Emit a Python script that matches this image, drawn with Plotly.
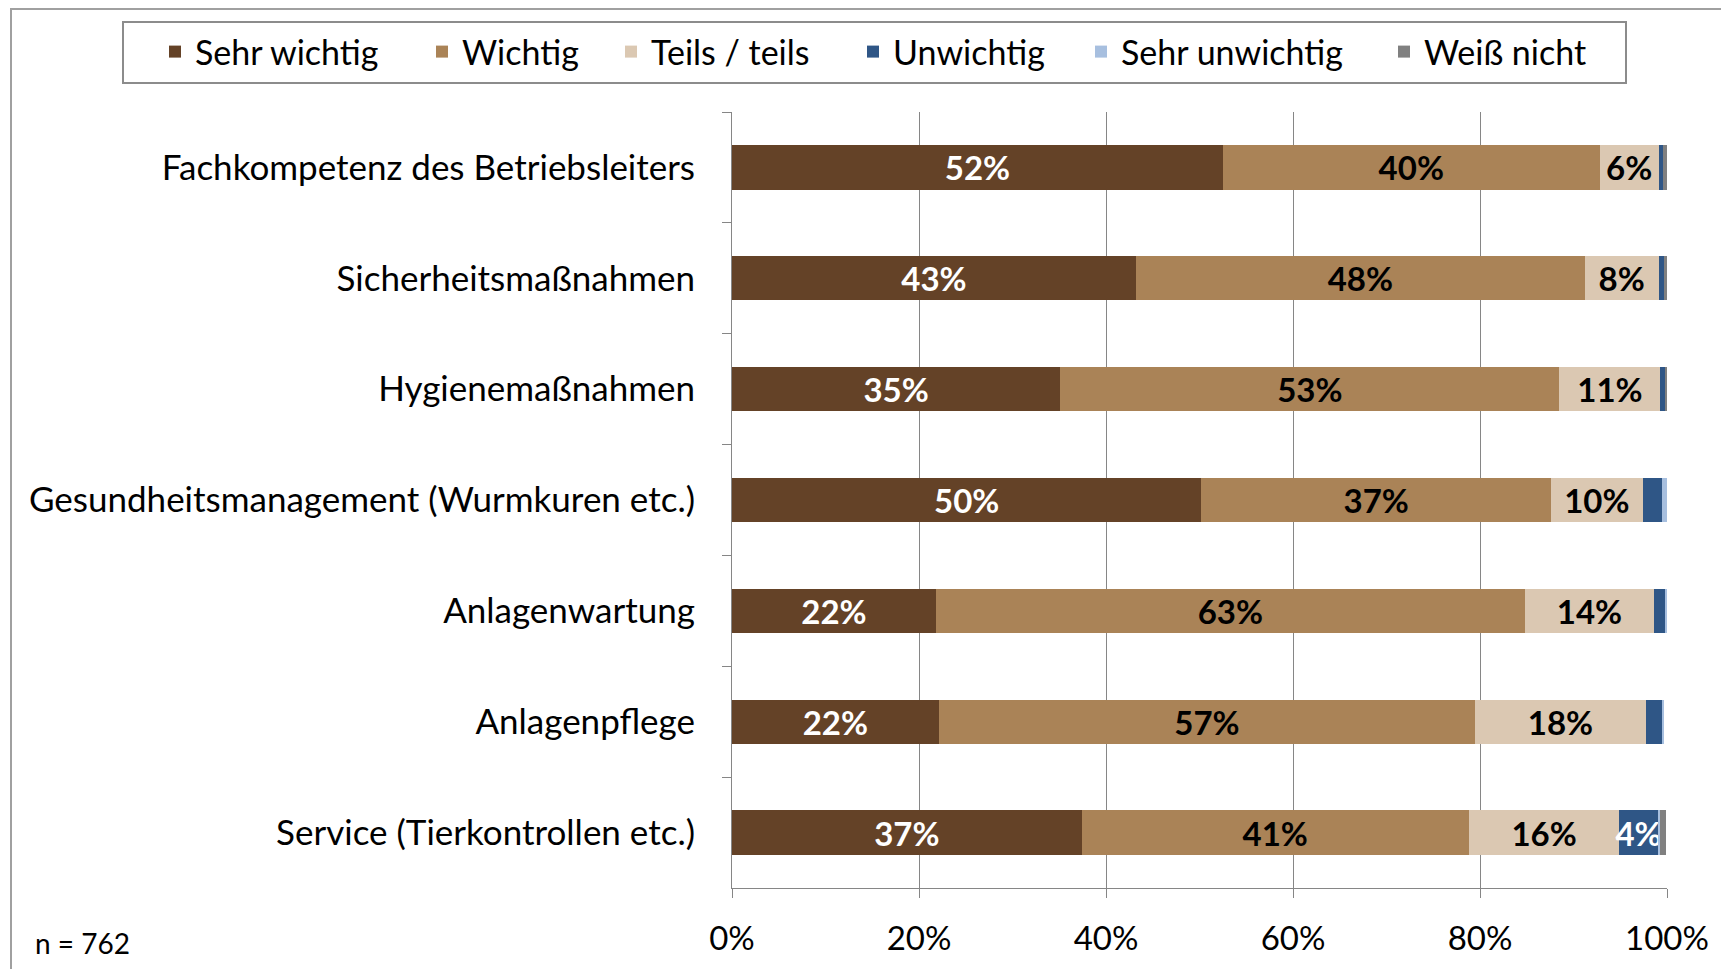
import plotly.graph_objects as go

# Kategorien (von oben nach unten)
categories = [
    "Fachkompetenz des Betriebsleiters",
    "Sicherheitsmaßnahmen",
    "Hygienemaßnahmen",
    "Gesundheitsmanagement (Wurmkuren etc.)",
    "Anlagenwartung",
    "Anlagenpflege",
    "Service (Tierkontrollen etc.)",
]

sehr_wichtig = [52.5, 43.2, 35.1, 50.2, 21.8, 22.1, 37.4]
wichtig = [40.3, 48.0, 53.4, 37.4, 63.0, 57.4, 41.4]
teils_teils = [6.3, 7.9, 10.8, 9.8, 13.8, 18.2, 16.1]
unwichtig = [0.5, 0.6, 0.5, 2.1, 1.2, 1.8, 4.1]
sehr_unwichtig = [0.0, 0.0, 0.0, 0.5, 0.2, 0.2, 0.3]
weiss_nicht = [0.4, 0.3, 0.1, 0.0, 0.0, 0.0, 0.6]

x_ticks = [0, 20, 40, 60, 80, 100]
x_tick_labels = ["0%", "20%", "40%", "60%", "80%", "100%"]

series = [
    ("Sehr wichtig", sehr_wichtig, "#644227", "white"),
    ("Wichtig", wichtig, "#AA8357", "black"),
    ("Teils / teils", teils_teils, "#DBC8B2", "black"),
    ("Unwichtig", unwichtig, "#2F5686", "white"),
    ("Sehr unwichtig", sehr_unwichtig, "#A7BFDF", "black"),
    ("Weiß nicht", weiss_nicht, "#808080", "white"),
]

# page body adds an 8px offset, so figure coords = screen coords - 8
OFF = 8
L, R, T, B = 732 - OFF, 1667 - OFF, 112 - OFF, 888 - OFF


def px_x(p):
    return (p - OFF - L) / (R - L)


def px_y(p):
    return (B - (p - OFF)) / (B - T)


FONT = "Lato, 'Open Sans', sans-serif"
legend_x = [169, 436, 625, 867, 1095, 1398]

fig = go.Figure()
for i, (name, vals, color, tcolor) in enumerate(series):
    labels = [f"{round(v)}%" if v >= 3.5 else "" for v in vals]
    fig.add_trace(go.Bar(
        y=categories,
        x=vals,
        name=name,
        orientation="h",
        marker=dict(color=color, line=dict(width=0)),
        text=labels,
        textposition="inside",
        insidetextanchor="middle",
        textangle=0,
        textfont=dict(family=FONT, size=33, color=tcolor, weight="bold"),
        showlegend=True,
        legend="legend" if i == 0 else f"legend{i + 1}",
        hovertemplate="%{y}: %{x:.1f}%<extra>" + name + "</extra>",
    ))

legends = {}
for i, lx in enumerate(legend_x):
    key = "legend" if i == 0 else f"legend{i + 1}"
    legends[key] = dict(
        x=px_x(lx - 14), y=px_y(52), xanchor="left", yanchor="middle",
        orientation="h", bgcolor="rgba(0,0,0,0)", borderwidth=0,
        font=dict(family=FONT, size=34, color="black"),
    )

fig.update_layout(
    width=1729, height=969,
    margin=dict(l=L, r=1729 - R, t=T, b=969 - B),
    barmode="stack",
    bargap=0.6,
    showlegend=True,
    plot_bgcolor="white",
    paper_bgcolor="white",
    font=dict(family=FONT, size=34, color="black"),
    uniformtext=dict(mode="show", minsize=33),
    **legends,
)

fig.update_xaxes(
    range=[0, 100],
    tickvals=x_ticks,
    ticktext=x_tick_labels,
    showgrid=True, gridcolor="#868686", gridwidth=1,
    showline=True, linecolor="#868686", linewidth=1,
    ticks="outside", ticklen=9, tickcolor="#868686",
    ticklabelstandoff=12,
    zeroline=False,
    tickfont=dict(family=FONT, size=33),
)
fig.update_yaxes(
    autorange="reversed",
    showgrid=False,
    showline=True, linecolor="#868686", linewidth=1,
    ticks="outside", ticklen=9, tickcolor="#868686",
    tickson="boundaries",
    ticklabelstandoff=29,
    tickfont=dict(family=FONT, size=35),
)

# äußerer Rahmen und Legendenrahmen
fig.add_shape(type="rect", xref="paper", yref="paper",
              x0=px_x(11), x1=px_x(1745), y0=px_y(9), y1=px_y(990),
              line=dict(color="#A0A0A0", width=2), layer="below")
fig.add_shape(type="rect", xref="paper", yref="paper",
              x0=px_x(123), x1=px_x(1626), y0=px_y(83), y1=px_y(22),
              line=dict(color="#8C8C8C", width=2), layer="below")

fig.add_annotation(text="n = 762", xref="paper", yref="paper",
                   x=px_x(33), y=px_y(943), xanchor="left", yanchor="middle",
                   showarrow=False, font=dict(family=FONT, size=28))

fig.write_html("out.html")
